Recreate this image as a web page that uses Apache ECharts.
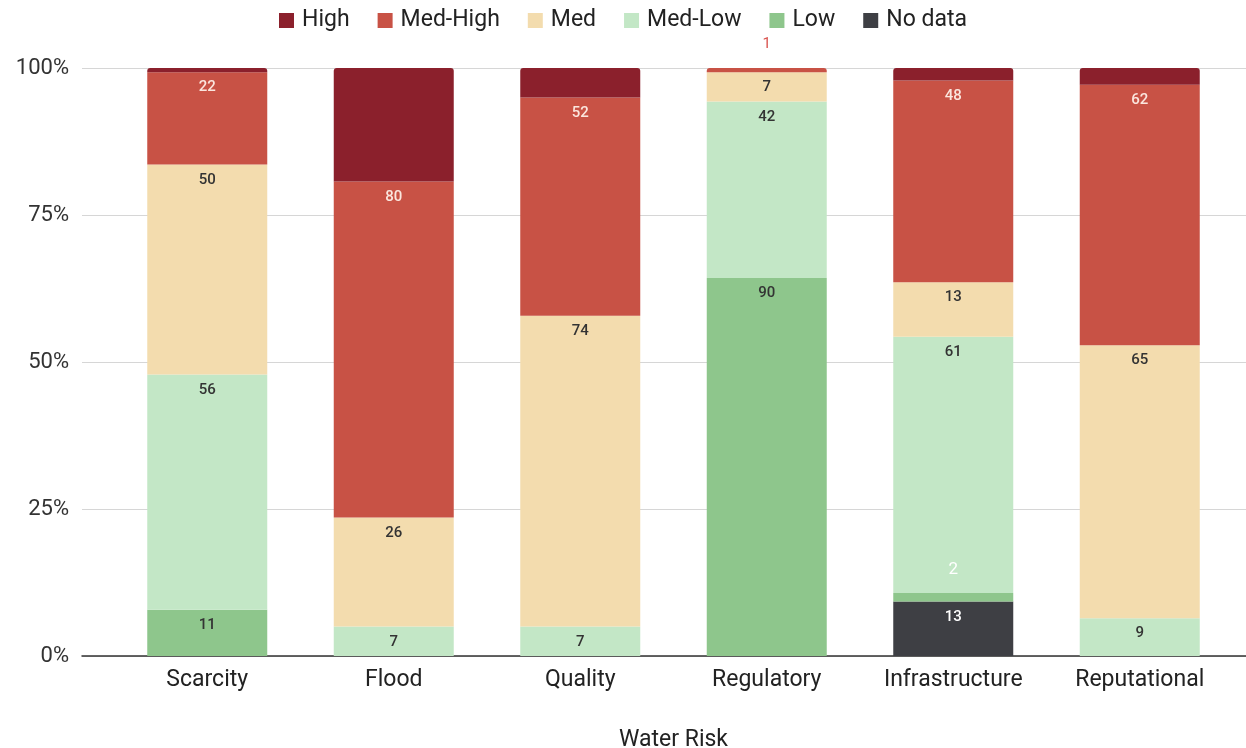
<!DOCTYPE html>
<html>
<head>
<meta charset="utf-8">
<script src="https://cdn.jsdelivr.net/npm/echarts@6/dist/echarts.min.js"></script>
<style>
  html, body { margin: 0; padding: 0; background: #fff; }
  #chart { width: 1246px; height: 748px; }
</style>
</head>
<body>
<div id="chart"></div>
<script>
// Risk categories along the x axis
const categories = ['Scarcity', 'Flood', 'Quality', 'Regulatory', 'Infrastructure', 'Reputational'];

// Counts per risk level (stacked bottom to top)
const noData  = [0, 0, 0, 0, 13, 0];
const low     = [11, 0, 0, 90, 2, 0];
const medLow  = [56, 7, 7, 42, 61, 9];
const med     = [50, 26, 74, 7, 13, 65];
const medHigh = [22, 80, 52, 1, 48, 62];
const high    = [1, 27, 7, 0, 3, 4];

const yTicks = [0, 25, 50, 75, 100];

const levels = [
  { name: 'No data',  values: noData,  color: '#3e3f44', label: '#ffffff' },
  { name: 'Low',      values: low,     color: '#8ec68c', label: '#333333' },
  { name: 'Med-Low',  values: medLow,  color: '#c3e7c6', label: '#333333' },
  { name: 'Med',      values: med,     color: '#f3dcae', label: '#333333' },
  { name: 'Med-High', values: medHigh, color: '#c85245', label: '#fbe6de' },
  { name: 'High',     values: high,    color: '#8b202c', label: null }
];

const totals = categories.map((_, i) => levels.reduce((s, l) => s + l.values[i], 0));

// index of the topmost non-empty level per category (gets rounded top corners)
const topLevel = categories.map((_, i) => {
  let t = 0;
  levels.forEach((l, k) => { if (l.values[i] > 0) t = k; });
  return t;
});

const FONT = 'Roboto, "Noto Sans", sans-serif';

const series = levels.map((lvl, k) => ({
  name: lvl.name,
  type: 'bar',
  stack: 'risk',
  barWidth: 120,
  xAxisIndex: 0,
  yAxisIndex: 0,
  itemStyle: { color: lvl.color },
  data: lvl.values.map((v, i) => {
    const item = {
      value: (v / totals[i]) * 100,
      count: v
    };
    if (topLevel[i] === k) item.itemStyle = { borderRadius: [3, 3, 0, 0] };
    if (lvl.label && v > 0) {
      item.label = {
        show: true,
        position: 'insideTop',
        distance: 8,
        color: lvl.label,
        fontSize: 15,
        fontWeight: 500,
        fontFamily: FONT,
        formatter: String(v)
      };
      // very thin segments carry their value just above the segment
      if (v / totals[i] < 0.02) {
        item.label.position = 'top';
        item.label.distance = lvl.name === 'Low' ? 15 : 16;
        item.label.color = lvl.name === 'Med-High' ? '#d9534f' : '#ffffff';
        item.label.fontWeight = 400;
        if (lvl.name === 'Low') item.label.fontSize = 17;
      }
    } else {
      item.label = { show: false };
    }
    return item;
  })
}));

const chart = echarts.init(document.getElementById('chart'), null, { renderer: 'canvas' });
chart.setOption({
  animation: false,
  backgroundColor: '#ffffff',
  textStyle: { fontFamily: FONT },
  legend: {
    data: ['High', 'Med-High', 'Med', 'Med-Low', 'Low', 'No data'],
    top: 4,
    left: 'center',
    itemWidth: 15,
    itemHeight: 15,
    itemGap: 28,
    icon: 'rect',
    textStyle: { fontSize: 23, color: '#222', fontFamily: FONT, padding: [0, 0, 0, 3] }
  },
  grid: [
    { left: 114, right: 13, top: 68, height: 588, outerBoundsMode: 'none', containLabel: false },
    { left: 82, right: 0, top: 68, height: 588, outerBoundsMode: 'none', containLabel: false }
  ],
  xAxis: [
    {
      type: 'category',
      gridIndex: 0,
      data: categories,
      axisLine: { show: false },
      axisTick: { show: false },
      axisLabel: { fontSize: 23, color: '#222', margin: 13, fontFamily: FONT },
      name: 'Water Risk',
      nameLocation: 'middle',
      nameGap: 73,
      nameTextStyle: { fontSize: 23, color: '#222', fontFamily: FONT }
    },
    {
      type: 'value',
      gridIndex: 1,
      min: 0,
      max: 1,
      axisLine: { show: true, lineStyle: { color: '#333', width: 1.5 } },
      axisTick: { show: false },
      axisLabel: { show: false },
      splitLine: { show: false }
    }
  ],
  yAxis: [
    {
      type: 'value',
      gridIndex: 0,
      min: 0,
      max: 100,
      show: false
    },
    {
      type: 'value',
      gridIndex: 1,
      min: yTicks[0],
      max: yTicks[yTicks.length - 1],
      interval: 25,
      axisLine: { show: false },
      axisTick: { show: false },
      axisLabel: { fontSize: 22, color: '#333', margin: 13, formatter: '{value}%', fontFamily: FONT },
      splitLine: { lineStyle: { color: '#d6d6d6', width: 1 } }
    }
  ],
  series: series
});
</script>
</body>
</html>
